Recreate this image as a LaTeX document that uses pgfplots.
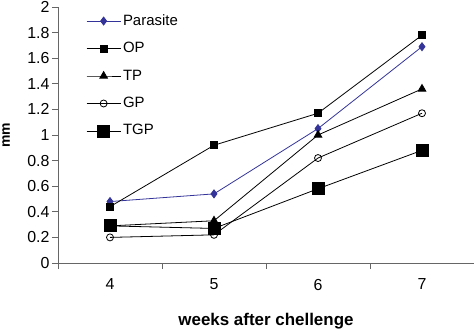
\documentclass[border=0pt]{standalone}
\usepackage{fontspec}
\setmainfont{Liberation Sans}
\usepackage{pgfplots}
\pgfplotsset{compat=1.18}
\definecolor{parblue}{HTML}{333399}
\definecolor{axgray}{HTML}{666666}
\begin{document}
\begin{tikzpicture}
\begin{axis}[
  at={(0,0)}, anchor=south west,
  scale only axis, width=416bp, height=256bp,
  xmin=3.5, xmax=7.5, ymin=0, ymax=2,
  axis x line=bottom, axis y line=left,
  axis line style={-, draw=axgray, line width=0.8pt},
  xtick={4,5,6,7},
  minor xtick={3.5,4.5,5.5,6.5,7.5},
  major x tick style={draw=none},
  minor x tick style={draw=axgray, line width=0.8pt},
  minor tick length=6bp,
  ytick={0,0.2,...,2.01},
  y tick style={draw=axgray, line width=0.8pt},
  major tick length=6bp,
  tick align=outside,
  /pgf/number format/assume math mode=true,
  yticklabel style={/pgf/number format/fixed, /pgf/number format/precision=1, font=\fontsize{16}{18}\selectfont, xshift=1bp},
  xticklabel style={font=\fontsize{16}{18}\selectfont, yshift=-6.5bp},
  xlabel={\textbf{weeks after chellenge}},
  ylabel={\textbf{mm}},
  xlabel style={at={(axis description cs:0.5,0)}, anchor=center, yshift=-58bp, font=\fontsize{17}{19}\selectfont},
  ylabel style={at={(axis description cs:-0.125,0.5)}, anchor=center, rotate=0, inner sep=0pt, font=\fontsize{14}{16}\selectfont},
  legend style={at={(axis description cs:0.065,0.985)}, anchor=north west, draw=none, fill=none,
    font=\fontsize{15}{17}\selectfont, row sep=9.5bp, inner sep=1bp,
    nodes={text height=11bp, text depth=3bp},
    legend cell align=left},
  legend image code/.code={\draw[mark repeat=2,mark phase=2] plot coordinates {(0bp,0bp)(17bp,0bp)(34bp,0bp)};},
  clip=false,
]
\addplot[parblue, line width=0.8pt, mark=diamond*, mark size=4bp, mark options={fill=parblue, draw=parblue}]
  coordinates {(4,0.48) (5,0.54) (6,1.05) (7,1.69)};
\addplot[black, line width=0.8pt, mark=square*, mark size=3.5bp, mark options={fill=black}]
  coordinates {(4,0.44) (5,0.92) (6,1.17) (7,1.78)};
\addplot[black, line width=0.8pt, mark=triangle*, mark size=4.4bp, mark options={fill=black}]
  coordinates {(4,0.29) (5,0.33) (6,1.00) (7,1.36)};
\addplot[black, line width=0.8pt, mark=o, mark size=3.5bp, mark options={fill=white}]
  coordinates {(4,0.20) (5,0.22) (6,0.82) (7,1.17)};
\addplot[black, line width=0.8pt, mark=square*, mark size=6bp, mark options={fill=black}]
  coordinates {(4,0.29) (5,0.27) (6,0.58) (7,0.88)};
\legend{Parasite, OP, TP, GP, TGP}
\end{axis}
\pgfresetboundingbox
\path (-58bp,-67bp) rectangle (416bp,263bp);
\end{tikzpicture}
\end{document}
